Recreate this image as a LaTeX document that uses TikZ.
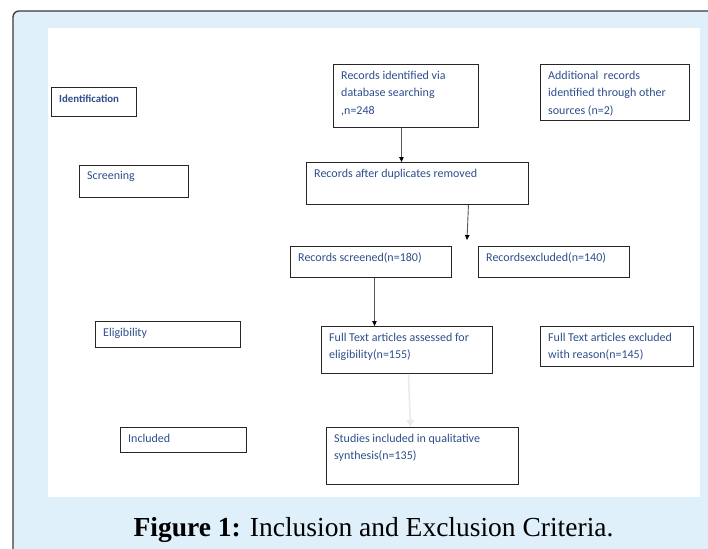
\documentclass[tikz,border=0pt]{standalone}
\usepackage{fontspec}
\setmainfont{Carlito}
\newfontfamily\capfont{Liberation Serif}
\usepackage{xcolor}
\usetikzlibrary{positioning,calc,arrows.meta}

\definecolor{framebg}{HTML}{DFF0FA}
\definecolor{framegray}{HTML}{3A3A3A}
\definecolor{boxtext}{HTML}{2E4F8C}

\tikzset{
  stagebox/.style={draw=black!85, line width=0.9pt, anchor=north west, inner sep=0pt},
  boxtxt/.style={anchor=north west, align=left, inner xsep=8pt, inner ysep=6.5pt,
    text=boxtext, font=\fontsize{12}{17.5}\selectfont},
  flow/.style={draw=black!65, line width=0.9pt, -{Triangle[length=5pt,width=4.5pt,color=black]}},
}

\begin{document}
\begin{tikzpicture}[x=1pt,y=-1pt]
    \useasboundingbox (0,0) rectangle (708,548);
    % frame and white panel
    \draw[framegray, fill=framebg, line width=1.3pt, rounded corners=6pt] (13,11) rectangle (740,580);
    \fill[white] (48,28) rectangle (700,497);

    % stage labels
    \node[stagebox, minimum width=85pt, minimum height=29pt,
      label={[boxtxt, font=\bfseries\fontsize{10.8}{17.5}\selectfont, inner ysep=7.5pt]north west:Identification}] (ident) at (51,87) {};
    \node[stagebox, minimum width=109pt, minimum height=32pt,
      label={[boxtxt]north west:Screening}] (screen) at (79,165) {};
    \node[stagebox, minimum width=145pt, minimum height=26pt,
      label={[boxtxt]north west:Eligibility}] (elig) at (95,321) {};
    \node[stagebox, minimum width=126pt, minimum height=25pt,
      label={[boxtxt]north west:Included}] (incl) at (120,427) {};

    % flow boxes
    \node[stagebox, minimum width=145pt, minimum height=63pt,
      label={[boxtxt]north west:Records identified via\\database searching\\,n=248}] (dbs) at (333,64) {};
    \node[stagebox, minimum width=149pt, minimum height=56pt,
      label={[boxtxt]north west:Additional\ \ records\\identified through other\\sources (n=2)}] (other) at (540,64) {};
    \node[stagebox, minimum width=222pt, minimum height=42pt,
      label={[boxtxt]north west:Records after duplicates removed}] (dup) at (306,162) {};
    \node[stagebox, minimum width=161pt, minimum height=31pt,
      label={[boxtxt]north west:Records screened(n=180)}] (scr) at (290,246) {};
    \node[stagebox, minimum width=151pt, minimum height=31pt,
      label={[boxtxt]north west:Recordsexcluded(n=140)}] (excl) at (478,246) {};
    \node[stagebox, minimum width=171pt, minimum height=47pt,
      label={[boxtxt]north west:Full Text articles assessed for\\eligibility(n=155)}] (full) at (321,326) {};
    \node[stagebox, minimum width=153pt, minimum height=40pt,
      label={[boxtxt]north west:Full Text articles excluded\\with reason(n=145)}] (fullex) at (540,326) {};
    \node[stagebox, minimum width=192pt, minimum height=57pt,
      label={[boxtxt]north west:Studies included in qualitative\\synthesis(n=135)}] (stud) at (326,427) {};

    % arrows
    \coordinate (gap) at (467,240);
    \draw[flow] ([xshift=-4.5pt]dbs.south) -- ([xshift=-4.5pt]dbs.south |- dup.north);
    \draw[flow] ([xshift=51pt]dup.south) -- (gap);
    \draw[flow] ([xshift=3.5pt]scr.south) -- ([xshift=3.5pt]scr.south |- full.north);
    \draw[black!8, line width=1.6pt, -{Triangle[length=7pt,width=7pt]}] ([xshift=1.5pt]full.south) -- ([xshift=-12pt]stud.north);

    % caption
    \node[font=\capfont\fontsize{27.5}{30}\selectfont, anchor=base] (cap) at (373.5,536) {\textbf{Figure 1:} Inclusion and Exclusion Criteria.};
\end{tikzpicture}
\end{document}
